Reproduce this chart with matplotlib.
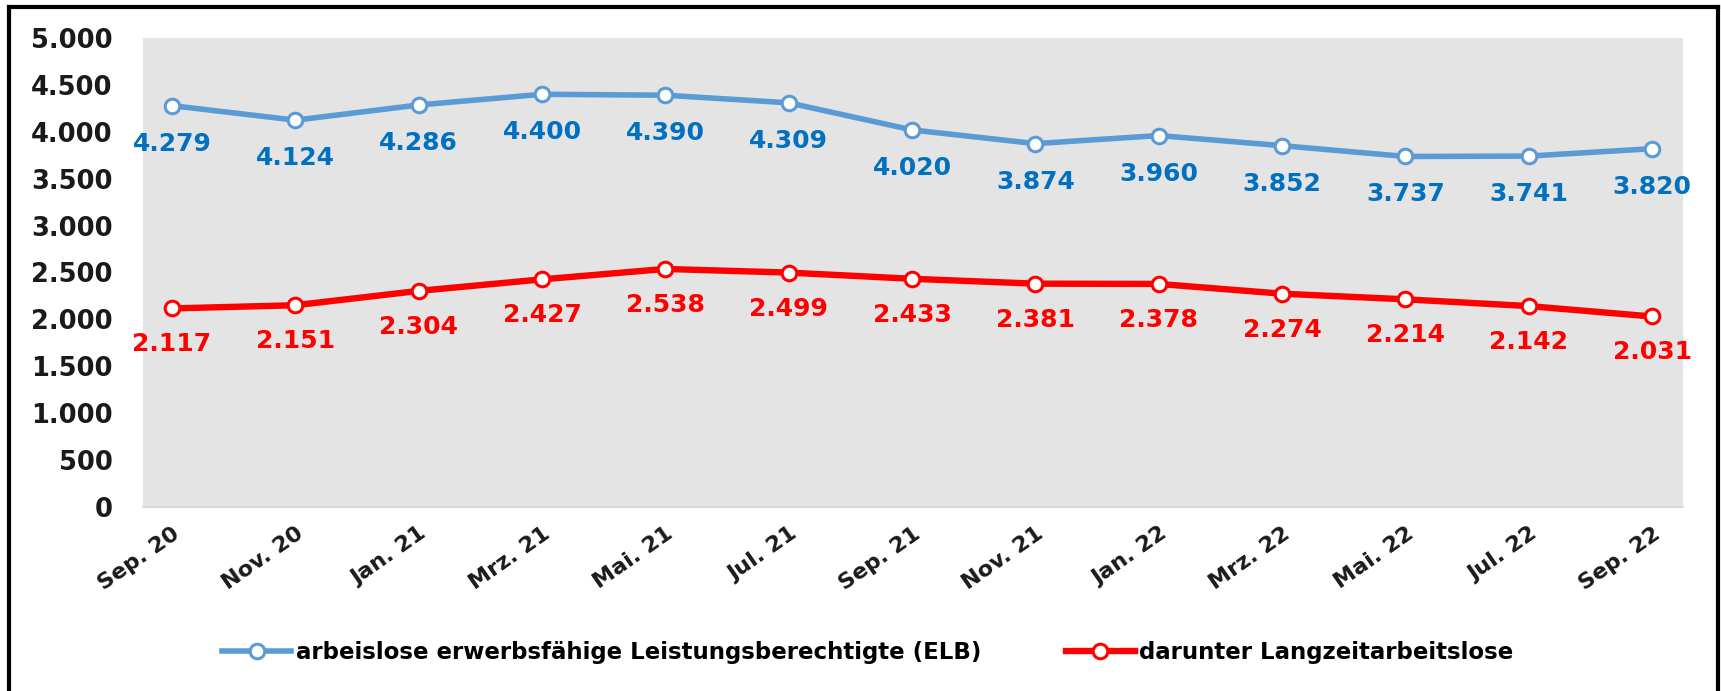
import matplotlib
matplotlib.use("Agg")
import matplotlib.pyplot as plt
from matplotlib.lines import Line2D

categories = ["Sep. 20", "Nov. 20", "Jan. 21", "Mrz. 21", "Mai. 21", "Jul. 21",
              "Sep. 21", "Nov. 21", "Jan. 22", "Mrz. 22", "Mai. 22", "Jul. 22", "Sep. 22"]
elb = [4279, 4124, 4286, 4400, 4390, 4309, 4020, 3874, 3960, 3852, 3737, 3741, 3820]
langzeit = [2117, 2151, 2304, 2427, 2538, 2499, 2433, 2381, 2378, 2274, 2214, 2142, 2031]
series_names = ["arbeislose erwerbsfähige Leistungsberechtigte (ELB)",
                "darunter Langzeitarbeitslose"]
y_ticks = [0, 500, 1000, 1500, 2000, 2500, 3000, 3500, 4000, 4500, 5000]
y_ticklabels = ["0", "500", "1.000", "1.500", "2.000", "2.500", "3.000",
                "3.500", "4.000", "4.500", "5.000"]


def de(v):
    return f"{v:,}".replace(",", ".")


W, H = 1721, 691
fig = plt.figure(figsize=(W / 100, H / 100), dpi=100)
ax = fig.add_axes([143 / W, 1 - 507 / H, (1683 - 143) / W, (507 - 38) / H])
ax.set_facecolor("#E4E4E4")

x = list(range(len(categories)))
blue_line = "#5B9BD5"
blue_text = "#0070C0"
red = "#FF0000"

ax.plot(x, elb, color=blue_line, lw=4.0, marker="o", ms=10.5, mfc="white",
        mec=blue_line, mew=2.2, label=series_names[0], zorder=3)
ax.plot(x, langzeit, color=red, lw=4.6, marker="o", ms=10.5, mfc="white",
        mec=red, mew=2.2, label=series_names[1], zorder=3)

for xi, v in zip(x, elb):
    ax.annotate(de(v), (xi, v), xytext=(0, -38), textcoords="offset pixels",
                ha="center", va="center", color=blue_text, fontsize=18,
                fontweight="bold", family="DejaVu Sans", zorder=4)
for xi, v in zip(x, langzeit):
    ax.annotate(de(v), (xi, v), xytext=(0, -36), textcoords="offset pixels",
                ha="center", va="center", color=red, fontsize=18,
                fontweight="bold", family="DejaVu Sans", zorder=4)

ax.set_xlim(-0.235, 12.25)
ax.set_ylim(0, 5000)
ax.set_yticks(y_ticks)
ax.set_yticklabels(y_ticklabels, fontsize=18.5, fontweight="bold", color="#1a1a1a")
ax.set_xticks(x)
ax.set_xticklabels(categories, fontsize=16, fontweight="bold", color="#1a1a1a",
                   rotation=35, ha="right", va="top", rotation_mode="anchor")
ax.tick_params(axis="y", length=0, pad=22)
ax.tick_params(axis="x", length=0, pad=12)
for s in ["top", "right", "left"]:
    ax.spines[s].set_visible(False)
ax.spines["bottom"].set_color("#D4D4D4")
ax.spines["bottom"].set_linewidth(1.2)

leg = fig.legend(loc="center", bbox_to_anchor=(868 / W, 1 - 653 / H), ncol=2,
                 frameon=False, prop={"family": "DejaVu Sans", "weight": "bold", "size": 16.5},
                 handlelength=3.0, handletextpad=0.2, columnspacing=3.7)

# figure border
lw = 3
fig.add_artist(Line2D([9 / W, 1718 / W], [1 - 7 / H, 1 - 7 / H], color="black", lw=lw,
                      transform=fig.transFigure))
fig.add_artist(Line2D([9 / W, 9 / W], [1 - 7 / H, 0], color="black", lw=lw,
                      transform=fig.transFigure))
fig.add_artist(Line2D([1718 / W, 1718 / W], [1 - 7 / H, 0], color="black", lw=lw,
                      transform=fig.transFigure))

fig.savefig("out.png", dpi=100, facecolor="white")
